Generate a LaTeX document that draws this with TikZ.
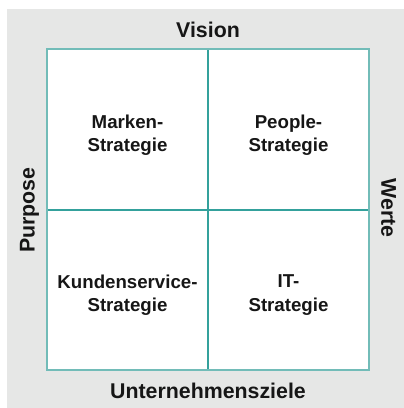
\documentclass[tikz,border=0pt]{standalone}
\usepackage{fontspec}
\setmainfont{Liberation Sans}
\definecolor{bggray}{HTML}{E6E7E6}
\definecolor{bordert}{HTML}{72BCB8}
\definecolor{linet}{HTML}{34A19C}
\definecolor{txt}{HTML}{161616}
\begin{document}
\begin{tikzpicture}[x=0.75pt,y=-0.75pt,
  celltext/.style={align=center,inner sep=0pt,text=txt,font=\fontsize{14}{17.6}\selectfont\bfseries},
  axistext/.style={inner sep=0pt,text=txt,anchor=base,font=\fontsize{16}{19}\selectfont\bfseries}]
\useasboundingbox (0,0) rectangle (404,408);
\fill[white] (0,0) rectangle (404,408);
\fill[bggray] (7,9) rectangle (404,408);
\fill[white] (47,49) rectangle (369,370);
\coordinate (top) at (208,49);
\coordinate (bot) at (208,370);
\coordinate (left) at (47,210);
\coordinate (right) at (369,210);
\draw[linet,line width=1.3pt] (top) -- (bot);
\draw[linet,line width=1.3pt] (left) -- (right);
\draw[bordert,line width=1.3pt] (47,49) rectangle (369,370);
\node[celltext] (marken) at (127.5,135) {Marken-\\Strategie};
\node[celltext] (people) at (288.5,135) {People-\\Strategie};
\node[celltext] (kunden) at (127.5,295) {Kundenservice-\\Strategie};
\node[celltext] (it) at (288.5,295) {IT-\\Strategie};
\node[axistext] (vision) at (208,37.3) {Vision};
\node[axistext] (ziele) at (208,398.3) {Unternehmensziele};
\node[axistext,rotate=90] (purpose) at (34.7,210) {Purpose};
\node[axistext,rotate=-90] (werte) at (381.3,208) {Werte};
\end{tikzpicture}
\end{document}
